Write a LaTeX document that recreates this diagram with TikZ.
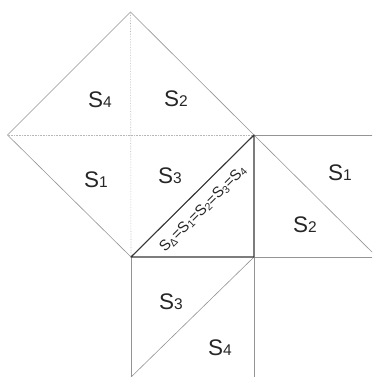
\documentclass[tikz,border=0pt]{standalone}
\usepackage{fontspec}
\setmainfont{Liberation Sans}
\newcommand\SL[1]{S{\fontsize{15.5}{15.5}\selectfont #1}}
\newcommand\SD[1]{S\raisebox{-1.8pt}{\fontsize{10.5}{10.5}\selectfont #1}}
\begin{document}
\begin{tikzpicture}[x=1pt,y=-1pt,
  edge/.style={draw=black!42, line width=0.6pt},
  diag/.style={draw=black!28, line width=0.6pt, densely dotted},
  tri/.style={draw=black!78, line width=1.1pt},
  lab/.style={font=\fontsize{22.5}{22.5}\selectfont, inner sep=0pt, text=black!85}]
\useasboundingbox (0,0) rectangle (372,377);
\clip (0,0) rectangle (372,377);
% key points
\coordinate (T) at (130.5,12);
\coordinate (L) at (7.5,135);
\coordinate (R) at (254,135);
\coordinate (B) at (131,257);
\coordinate (C) at (254,257);
\coordinate (RT) at (378,135);
\coordinate (RB) at (378,257);
\coordinate (RD) at (378,258);
\coordinate (BL) at (131,382);
\coordinate (BR) at (254,382);
\coordinate (BD) at (126,382);
% diamond
\draw[edge] (T) -- (R) -- (B) -- (L) -- cycle;
\draw[diag] (L) -- (R);
\draw[diag] (T) -- (B);
% right square
\draw[edge] (R) -- (RT);
\draw[edge] (C) -- (RB);
\draw[edge] (R) -- (RD);
% bottom square
\draw[edge] (B) -- (BL);
\draw[edge] (C) -- (BR);
\draw[edge] (C) -- (BD);
% triangle
\draw[tri, line join=round] (B) -- (R) -- (C) -- cycle;
% labels
\node[lab] (s4a) at (100,100) {\SL{4}};
\node[lab] (s2a) at (176,99) {\SL{2}};
\node[lab] (s1a) at (96,180) {\SL{1}};
\node[lab] (s3a) at (170,176) {\SL{3}};
\node[lab] (s1b) at (340,173) {\SL{1}};
\node[lab] (s2b) at (305,225) {\SL{2}};
\node[lab] (s3b) at (171,302) {\SL{3}};
\node[lab] (s4b) at (220,348) {\SL{4}};
\node[inner sep=0pt, rotate=45, font=\fontsize{15}{15}\selectfont, text=black!85] (eq) at (203,209)
  {\SD{Δ}=\SD{1}=\SD{2}=\SD{3}=\SD{4}};
\end{tikzpicture}
\end{document}
